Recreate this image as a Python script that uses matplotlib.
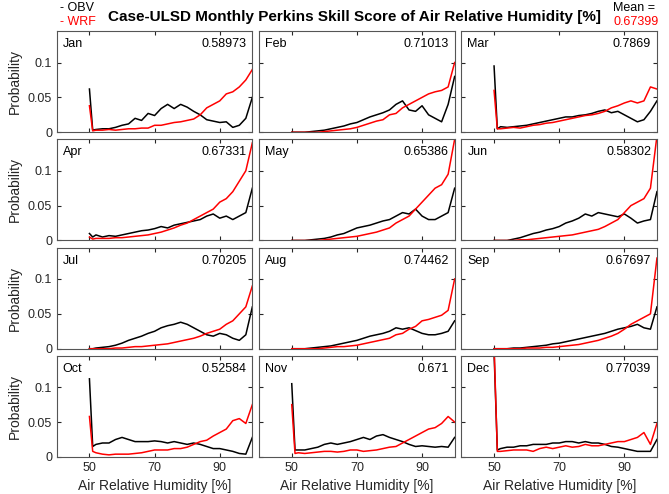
import numpy as np
import matplotlib
matplotlib.use('Agg')
import matplotlib.pyplot as plt

plt.rcParams['font.family'] = ['Liberation Sans', 'DejaVu Sans']

# bin centres of relative humidity [%]
rh = [50, 51] + list(range(52, 101, 2))

months = ['Jan', 'Feb', 'Mar', 'Apr', 'May', 'Jun',
          'Jul', 'Aug', 'Sep', 'Oct', 'Nov', 'Dec']
scores = ['0.58973', '0.71013', '0.7869', '0.67331', '0.65386', '0.58302',
          '0.70205', '0.74462', '0.67697', '0.52584', '0.671', '0.77039']
mean_score = '0.67399'

# probabilities x 1000
obv = [
    [62,3,4,5,5,7,10,12,20,17,27,24,34,40,34,40,36,30,25,18,16,14,15,7,10,20,50],
    [0,0,0,0,1,2,3,5,7,9,12,14,18,22,25,28,32,40,45,32,30,38,25,20,15,40,80],
    [95,5,8,7,8,9,10,12,14,16,18,20,22,22,24,25,27,30,32,28,30,25,20,15,18,30,45],
    [10,5,8,5,7,6,8,10,12,14,15,17,20,18,22,24,26,28,30,35,38,32,35,30,35,40,75],
    [0,0,0,0,1,2,3,5,8,10,14,18,20,22,25,28,30,35,40,38,45,35,30,30,35,40,75],
    [0,0,0,0,2,4,7,10,12,15,17,20,25,28,32,38,35,40,38,36,34,38,32,25,28,30,70],
    [0,0,1,2,3,5,8,12,15,18,22,25,30,33,35,38,35,30,25,20,18,22,20,15,12,20,60],
    [0,0,0,0,1,2,3,4,6,8,10,12,15,18,20,22,25,30,28,30,26,22,20,20,22,25,40],
    [0,0,0,0,1,1,2,3,4,5,7,8,10,12,14,16,18,20,22,25,28,30,32,35,30,28,60],
    [112,15,18,20,20,25,28,25,22,22,22,23,22,20,22,20,18,20,18,15,12,12,10,8,5,4,28],
    [105,10,10,10,12,14,18,20,18,20,22,25,28,25,30,32,28,25,22,18,15,16,15,14,15,14,28],
    [150,10,12,14,14,16,16,18,18,18,20,20,22,22,20,22,20,20,18,15,14,12,10,8,8,8,25],
]
wrf = [
    [38,2,3,3,4,3,4,5,5,6,6,10,10,12,14,15,17,19,25,35,40,45,55,58,65,75,90],
    [0,0,0,0,0,0,1,2,3,4,5,7,10,13,16,18,25,27,35,40,45,50,55,58,60,65,100],
    [60,5,5,6,7,6,8,10,11,13,14,16,18,20,22,24,25,27,30,35,38,42,45,42,45,65,62],
    [5,2,3,3,3,4,4,5,6,7,8,10,12,15,18,22,25,30,35,40,45,55,60,70,85,100,140],
    [0,0,0,0,0,0,1,2,3,4,5,6,8,10,12,15,18,25,30,35,45,55,65,75,80,95,145],
    [0,0,0,0,0,1,1,2,3,4,5,6,7,8,10,12,14,16,20,25,30,40,50,55,60,75,150],
    [0,0,0,0,0,1,1,2,3,3,4,5,6,7,9,11,13,15,18,22,25,28,35,40,50,60,90],
    [0,0,0,0,0,0,1,2,3,3,4,5,7,9,11,13,15,20,22,28,32,40,42,45,48,55,100],
    [0,0,0,0,0,0,1,1,1,2,2,3,4,5,6,8,10,12,15,18,22,28,35,40,45,50,130],
    [58,8,6,4,3,4,4,4,5,6,8,10,10,10,12,12,14,18,22,24,30,35,40,52,55,48,75],
    [75,5,6,5,6,7,8,8,7,8,10,10,8,9,10,12,14,15,20,25,30,35,40,42,48,58,50],
    [160,8,8,9,10,10,10,8,12,14,12,14,16,14,15,18,16,16,18,20,22,22,25,28,35,18,48],
]

fig, axes = plt.subplots(4, 3, figsize=(6.69, 4.94), dpi=100, sharex=True, sharey=True)
fig.subplots_adjust(left=0.085, right=0.982, top=0.937, bottom=0.075, wspace=0.035, hspace=0.07)

for i, ax in enumerate(axes.flat):
    ax.plot(rh, np.array(obv[i]) / 1000, color='black', lw=1.1)
    ax.plot(rh, np.array(wrf[i]) / 1000, color='red', lw=1.1)
    ax.set_xlim(40, 100)
    ax.set_ylim(0, 0.145)
    ax.set_xticks([50, 70, 90])
    ax.set_yticks([0, 0.05, 0.1])
    ax.set_yticklabels(['0', '0.05', '0.1'])
    ax.tick_params(direction='in', top=True, right=True, labelsize=9,
                   colors='#262626', length=3)
    for s in ax.spines.values():
        s.set_color('#555555')
    ax.text(0.03, 0.93, months[i], transform=ax.transAxes, ha='left', va='top', fontsize=9)
    ax.text(0.97, 0.93, scores[i], transform=ax.transAxes, ha='right', va='top', fontsize=9)
    if i % 3 == 0:
        ax.set_ylabel('Probability', fontsize=10, color='#262626')
    if i >= 9:
        ax.set_xlabel('Air Relative Humidity [%]', fontsize=10, color='#262626')

fig.text(0.53, 0.966, 'Case-ULSD Monthly Perkins Skill Score of Air Relative Humidity [%]',
         fontsize=11, fontweight='bold', ha='center', va='center')
fig.text(0.09, 0.984, '- OBV', color='black', fontsize=9, va='center')
fig.text(0.09, 0.955, '- WRF', color='red', fontsize=9, va='center')
fig.text(0.917, 0.984, 'Mean =', color='black', fontsize=9, va='center')
fig.text(0.917, 0.955, mean_score, color='red', fontsize=9, va='center')

fig.savefig('out.png', dpi=100)
